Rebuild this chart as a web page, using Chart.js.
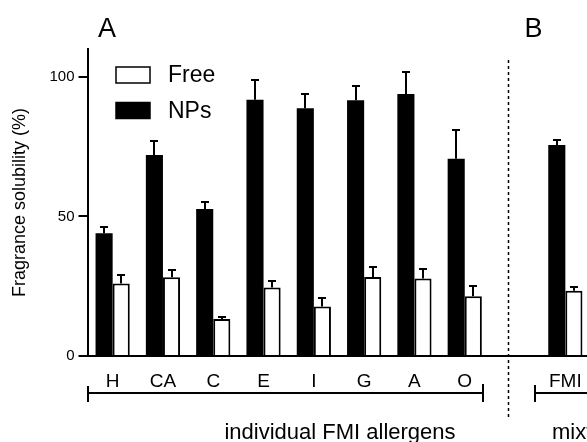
<!DOCTYPE html>
<html>
<head>
<meta charset="utf-8">
<script src="https://cdn.jsdelivr.net/npm/chart.js@4.4.0/dist/chart.umd.min.js"></script>
<style>
    html, body { margin: 0; padding: 0; background: #fff; overflow: hidden; }
    #wrap { width: 600px; height: 442px; }
</style>
</head>
<body>
<div id="wrap"><canvas id="myChart" width="600" height="442"></canvas></div>
<script>
const FONT = '"Liberation Sans", Arial, Helvetica, sans-serif';

// categories (empty slot separates panel A from panel B)
const categories = ['H', 'CA', 'C', 'E', 'I', 'G', 'A', 'O', '', 'FMI'];
const npValues   = [44, 72, 52.7, 91.8, 88.8, 91.6, 93.9, 70.7, null, 75.6];
const npErrors   = [2.2, 5, 2.6, 7.2, 5, 5, 8, 10.3, null, 1.8];
const freeValues = [26, 28.2, 13.3, 24.5, 17.7, 28.3, 27.8, 21.4, null, 23.4];
const freeErrors = [3.1, 2.6, 0.8, 2.4, 3, 3.6, 3.4, 3.8, null, 1.2];
const yTicks = [0, 50, 100];
const groupLabels = ['individual FMI allergens', 'mixture'];
const panelLabels = ['A', 'B'];

// error bars: only the upper half, with a small cap
const errorBars = {
    id: 'errorBars',
    afterDatasetsDraw(chart) {
        const ctx = chart.ctx;
        const yScale = chart.scales.y;
        ctx.save();
        ctx.strokeStyle = '#000';
        ctx.lineWidth = 2;
        chart.data.datasets.forEach(function(ds, d) {
            const meta = chart.getDatasetMeta(d);
            meta.data.forEach(function(bar, i) {
                const v = ds.data[i];
                const e = ds.errors[i];
                if (v == null || e == null) return;
                const yTop = Math.round(yScale.getPixelForValue(v + e));
                const x = Math.round(bar.x);
                ctx.beginPath();
                ctx.moveTo(x, bar.y);
                ctx.lineTo(x, yTop);
                ctx.moveTo(x - 4, yTop);
                ctx.lineTo(x + 4, yTop);
                ctx.stroke();
            });
        });
        ctx.restore();
    }
};

// legend inside the plot, panel letters, separator and group brackets
const decorations = {
    id: 'decorations',
    afterDraw(chart) {
        const ctx = chart.ctx;
        const xs = chart.scales.x;
        const area = chart.chartArea;
        const freeMeta = chart.getDatasetMeta(1);
        const npMeta = chart.getDatasetMeta(0);
        ctx.save();

        // legend: Free first, then NPs
        const order = [1, 0];
        ctx.font = '23px ' + FONT;
        ctx.textBaseline = 'middle';
        ctx.textAlign = 'left';
        order.forEach(function(d, k) {
            const ds = chart.data.datasets[d];
            const top = 67 + k * 35.5;
            ctx.fillStyle = ds.backgroundColor;
            ctx.fillRect(116, top, 34, 16);
            ctx.strokeStyle = '#000';
            ctx.lineWidth = 1.5;
            ctx.strokeRect(116, top, 34, 16);
            ctx.fillStyle = '#000';
            ctx.fillText(ds.label, 168, top + 9);
        });

        // dotted separator
        const sepX = Math.round(xs.getPixelForValue(8)) - 6.5;
        ctx.strokeStyle = '#000';
        ctx.lineWidth = 1.5;
        ctx.setLineDash([3, 3]);
        ctx.beginPath();
        ctx.moveTo(sepX, 60);
        ctx.lineTo(sepX, 420);
        ctx.stroke();
        ctx.setLineDash([]);

        // panel letters
        ctx.font = '27px ' + FONT;
        ctx.textBaseline = 'alphabetic';
        ctx.fillText(panelLabels[0], 98, 37);
        ctx.fillText(panelLabels[1], sepX + 16, 37);

        // brackets
        const by = 393;
        const oBar = freeMeta.data[7];
        const b1L = Math.round(area.left);
        const b1R = Math.round(oBar.x + oBar.width / 2) + 1;
        const b2L = Math.round(npMeta.data[9].x - npMeta.data[9].width / 2) - 13;
        ctx.lineWidth = 2;
        ctx.beginPath();
        ctx.moveTo(b1L, by); ctx.lineTo(b1R, by);
        ctx.moveTo(b1L, by - 7); ctx.lineTo(b1L, by + 9);
        ctx.moveTo(b1R, by - 9); ctx.lineTo(b1R, by + 9);
        ctx.moveTo(b2L, by); ctx.lineTo(chart.width, by);
        ctx.moveTo(b2L, by - 8); ctx.lineTo(b2L, by + 9);
        ctx.stroke();

        // group labels
        ctx.font = '22px ' + FONT;
        ctx.textAlign = 'center';
        ctx.fillText(groupLabels[0], 340, 439);
        ctx.textAlign = 'left';
        ctx.fillText(groupLabels[1], b2L + 17, 439);

        ctx.restore();
    }
};

const ctx = document.getElementById('myChart').getContext('2d');
const myChart = new Chart(ctx, {
    type: 'bar',
    data: {
        labels: categories,
        datasets: [
            {
                label: 'NPs',
                data: npValues,
                errors: npErrors,
                backgroundColor: '#000',
                borderWidth: 0
            },
            {
                label: 'Free',
                data: freeValues,
                errors: freeErrors,
                backgroundColor: '#fff',
                borderColor: '#000',
                borderWidth: 2
            }
        ]
    },
    options: {
        responsive: false,
        animation: false,
        devicePixelRatio: 1,
        categoryPercentage: 0.68,
        barPercentage: 1.0,
        layout: { padding: { left: 0, right: 9.5, top: 49, bottom: 0 } },
        plugins: {
            legend: { display: false },
            tooltip: { enabled: false }
        },
        scales: {
            x: {
                grid: { display: false, drawTicks: false },
                border: { display: true, color: '#000', width: 2 },
                ticks: {
                    color: '#000',
                    font: { family: FONT, size: 19 },
                    padding: 14,
                    maxRotation: 0,
                    autoSkip: false
                },
                afterFit: function(scale) { scale.height = 86; }
            },
            y: {
                min: 0,
                max: 110,
                afterBuildTicks: function(scale) {
                    scale.ticks = yTicks.map(v => ({ value: v }));
                },
                grid: {
                    drawOnChartArea: false,
                    drawTicks: true,
                    tickLength: 9,
                    color: '#000',
                    lineWidth: 2
                },
                border: { display: true, color: '#000', width: 2 },
                ticks: {
                    color: '#000',
                    font: { family: FONT, size: 15 },
                    padding: 4
                },
                title: {
                    display: true,
                    text: 'Fragrance solubility (%)',
                    color: '#000',
                    font: { family: FONT, size: 18 },
                    padding: { top: 9, bottom: 0 }
                },
                afterFit: function(scale) { scale.width = 87.5; }
            }
        }
    },
    plugins: [errorBars, decorations]
});
</script>
</body>
</html>
